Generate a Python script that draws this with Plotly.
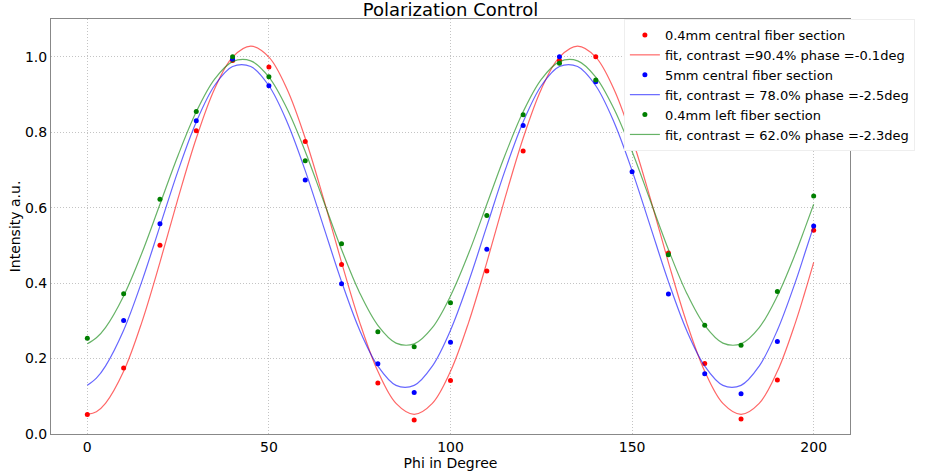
import plotly.graph_objects as go

FONT = "DejaVu Sans"

# measured points
phi = [0, 10, 20, 30, 40, 50, 60, 70, 80, 90, 100,
       110, 120, 130, 140, 150, 160, 170, 180, 190, 200]
red_pts = [0.052, 0.175, 0.500, 0.804, 0.990, 0.973, 0.775, 0.449, 0.135, 0.037, 0.142,
           0.432, 0.750, 0.990, 1.000, 0.782, 0.480, 0.187, 0.040, 0.143, 0.540]
blue_pts = [None, 0.301, 0.557, 0.830, 0.993, 0.923, 0.673, 0.398, 0.186, 0.110, 0.243,
            0.490, 0.818, 1.000, 0.934, 0.695, 0.371, 0.160, 0.107, 0.245, 0.551]
green_pts = [0.254, 0.372, 0.622, 0.855, 1.000, 0.947, 0.724, 0.504, 0.271, 0.231, 0.348,
             0.579, 0.846, 0.983, 0.938, 0.766, 0.475, 0.288, 0.235, 0.378, 0.631]

# fit curves (every 5 deg, plus the ends)
phi_fit = [0, 2.5, 5, 10, 15, 20, 25, 30, 35, 40, 45, 50, 55, 60, 65, 70, 75, 80, 85, 90, 95,
           100, 105, 110, 115, 120, 125, 130, 135, 140, 145, 150, 155, 160, 165, 170, 175,
           180, 185, 190, 195, 197.5, 200]
red_fit = [0.052, 0.059, 0.081, 0.166, 0.296, 0.455, 0.625, 0.784, 0.914, 0.999, 1.028,
           0.999, 0.914, 0.784, 0.625, 0.455, 0.296, 0.166, 0.081, 0.052, 0.081,
           0.166, 0.296, 0.455, 0.625, 0.784, 0.914, 0.999, 1.028, 0.999, 0.914,
           0.784, 0.625, 0.455, 0.296, 0.166, 0.081, 0.052, 0.081, 0.166, 0.296,
           0.373, 0.455]
blue_fit = [0.129, 0.148, 0.180, 0.275, 0.404, 0.551, 0.698, 0.827, 0.923, 0.974, 0.974,
            0.923, 0.827, 0.698, 0.551, 0.404, 0.275, 0.180, 0.129, 0.129, 0.180,
            0.275, 0.404, 0.551, 0.698, 0.827, 0.923, 0.974, 0.974, 0.923, 0.827,
            0.698, 0.551, 0.404, 0.275, 0.180, 0.129, 0.129, 0.180, 0.275, 0.404,
            0.477, 0.551]
green_fit = [0.239, 0.255, 0.282, 0.366, 0.479, 0.609, 0.739, 0.854, 0.940, 0.987, 0.989,
             0.946, 0.862, 0.749, 0.619, 0.489, 0.374, 0.288, 0.241, 0.239, 0.282,
             0.366, 0.479, 0.609, 0.739, 0.854, 0.940, 0.987, 0.989, 0.946, 0.862,
             0.749, 0.619, 0.489, 0.374, 0.288, 0.241, 0.239, 0.282, 0.366, 0.479,
             0.543, 0.609]

series = [
    ("0.4mm central fiber section", red_pts, "#ff0000",
     "fit, contrast =90.4% phase =-0.1deg", red_fit, "rgba(255,0,0,0.6)"),
    ("5mm central fiber section", blue_pts, "#0000ff",
     "fit, contrast = 78.0% phase =-2.5deg", blue_fit, "rgba(0,0,255,0.6)"),
    ("0.4mm left fiber section", green_pts, "#007f00",
     "fit, contrast = 62.0% phase =-2.3deg", green_fit, "rgba(0,128,0,0.6)"),
]

fig = go.Figure()
for name, pts, col, fit_name, fit, fit_col in series:
    fig.add_trace(go.Scatter(
        x=phi, y=pts, name=name, mode="markers",
        marker=dict(color=col, size=5, line=dict(width=0)),
    ))
    fig.add_trace(go.Scatter(
        x=phi_fit, y=fit, name=fit_name, mode="lines",
        line=dict(color=fit_col, width=1.2, shape="spline", smoothing=1.0),
    ))

axis_common = dict(
    showline=True, linecolor="#888888", linewidth=1, mirror=True,
    showgrid=True, gridcolor="#c4c4c4", griddash="1px,2px", gridwidth=1,
    zeroline=False, ticks="", automargin=False,
    tickfont=dict(family=FONT, size=14, color="black"),
)

fig.update_xaxes(range=[-10, 210], tickvals=[0, 50, 100, 150, 200],
                 title=dict(text="Phi in Degree", font=dict(family=FONT, size=14), standoff=1),
                 **axis_common)
fig.update_yaxes(range=[0, 1.1], tickvals=[0, 0.2, 0.4, 0.6, 0.8, 1.0],
                 tickformat=".1f",
                 title=dict(text="Intensity a.u.", font=dict(family=FONT, size=14), standoff=1),
                 **axis_common)

# autoexpand off: the legend runs past the right edge, as in the original
fig.update_layout(
    width=928, height=473,
    margin=dict(l=51, r=78, t=19, b=39, autoexpand=False),
    paper_bgcolor="white", plot_bgcolor="white",
    font=dict(family=FONT, color="black"),
    title=dict(text="Polarization Control", x=0.4855, xanchor="center",
               y=0.966, yanchor="bottom", font=dict(family=FONT, size=18)),
    legend=dict(x=0.717, y=1.0, xanchor="left", yanchor="top",
                bgcolor="white", bordercolor="#eeeeee", borderwidth=1,
                font=dict(family=FONT, size=13), itemwidth=30,
                tracegroupgap=0),
    showlegend=True,
)

# drop the default 8px page margin so the figure sits at the window's corner
fig.write_html(
    "out.html",
    config={"responsive": False, "displayModeBar": False},
    post_script="document.body.style.margin='0';document.body.style.overflow='hidden';",
)
